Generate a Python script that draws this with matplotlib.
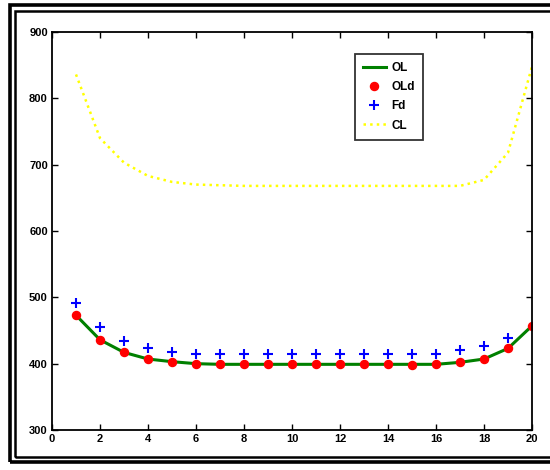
import matplotlib
matplotlib.use("Agg")
import matplotlib.pyplot as plt
from matplotlib.patches import Rectangle

x = list(range(1, 21))
ol = [473, 436, 417, 407, 403, 400, 399, 399, 399, 399, 399, 399, 399, 399, 399, 399, 402, 407, 423, 457]
old = [473, 436, 417, 407, 403, 400, 399, 399, 399, 399, 399, 399, 399, 399, 398, 399, 402, 407, 423, 457]
x_fd = list(range(1, 20))
fd = [491, 455, 434, 423, 418, 415, 415, 415, 415, 415, 415, 415, 415, 415, 415, 415, 421, 426, 439]
cl = [836, 740, 703, 683, 674, 670, 669, 668, 668, 668, 668, 668, 668, 668, 668, 668, 668, 677, 718, 848]
xticks = list(range(0, 21, 2))
yticks = list(range(300, 901, 100))

plt.rcParams['font.family'] = ['Liberation Sans', 'DejaVu Sans']
fig = plt.figure(figsize=(5.5, 4.7), dpi=100)
W, H = 550, 470

# double frame
fig.patches.append(Rectangle((9.5 / W, (H - 462) / H), 560 / W, 457 / H, transform=fig.transFigure,
                             fill=False, edgecolor='black', linewidth=2.6))
fig.patches.append(Rectangle((15 / W, (H - 456.5) / H), 560 / W, 445.5 / H, transform=fig.transFigure,
                             fill=False, edgecolor='black', linewidth=1.8))

ax = fig.add_axes([52 / W, (H - 430) / H, 480 / W, 398 / H])
ax.plot(x, ol, color='#008000', linewidth=2.2, label='OL')
ax.plot(x, old, linestyle='none', marker='o', color='red', markersize=5.8, label='OLd')
ax.plot(x_fd, fd, linestyle='none', marker='+', color='blue', markersize=6.5, markeredgewidth=1.5, label='Fd')
ax.plot(x, cl, color='yellow', linestyle=':', linewidth=1.8, label='CL')

ax.set_xlim(0, 20)
ax.set_ylim(300, 900)
ax.set_xticks(xticks)
ax.set_yticks(yticks)
ax.tick_params(direction='in', top=True, right=True, length=4, width=1, labelsize=8, pad=3)
for lab in ax.get_xticklabels() + ax.get_yticklabels():
    lab.set_fontweight('bold')
for s in ax.spines.values():
    s.set_linewidth(1.3)

leg = ax.legend(loc='upper left', bbox_to_anchor=((355 - 52) / 480, (430 - 54) / 398),
                borderaxespad=0, frameon=True, fancybox=False, edgecolor='black', fontsize=8.5,
                handlelength=1.9, borderpad=0.7, labelspacing=0.6, handletextpad=0.5)
leg.get_frame().set_linewidth(1.3)
for t in leg.get_texts():
    t.set_fontweight('bold')

fig.savefig('out.png', dpi=100)
